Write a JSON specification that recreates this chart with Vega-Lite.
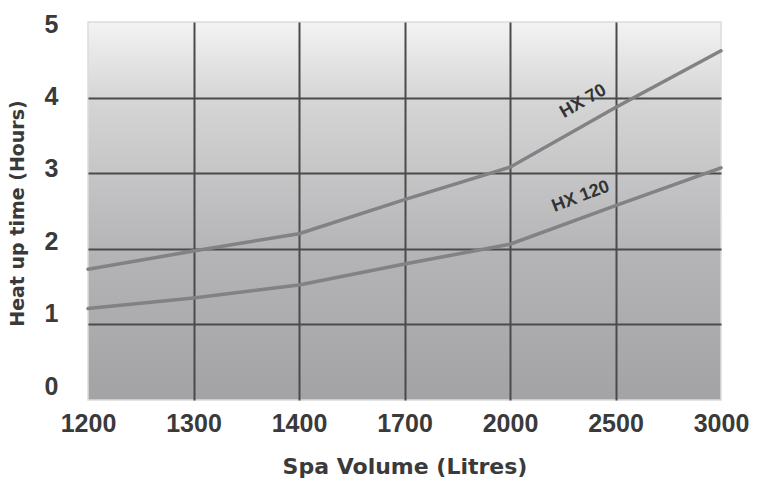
{
  "$schema": "https://vega.github.io/schema/vega-lite/v6.json",
  "autosize": {"type": "none"},
  "width": 633,
  "height": 378,
  "padding": {"left": 88, "top": 22, "right": 38, "bottom": 85},
  "background": "white",
  "config": {
    "font": "Liberation Sans",
    "view": {
      "stroke": "#dcdcdc",
      "strokeWidth": 1.5,
      "fill": {
        "gradient": "linear",
        "x1": 0, "y1": 0, "x2": 0, "y2": 1,
        "stops": [
          {"offset": 0, "color": "#f3f3f3"},
          {"offset": 0.2, "color": "#d6d6d7"},
          {"offset": 0.6, "color": "#b5b5b7"},
          {"offset": 1, "color": "#a3a3a5"}
        ]
      }
    }
  },
  "data": {
    "values": [
      {"volume": "1200", "series": "HX 70", "hours": 1.73},
      {"volume": "1300", "series": "HX 70", "hours": 1.97},
      {"volume": "1400", "series": "HX 70", "hours": 2.2},
      {"volume": "1700", "series": "HX 70", "hours": 2.65},
      {"volume": "2000", "series": "HX 70", "hours": 3.08},
      {"volume": "2500", "series": "HX 70", "hours": 3.87},
      {"volume": "3000", "series": "HX 70", "hours": 4.62},
      {"volume": "1200", "series": "HX 120", "hours": 1.21},
      {"volume": "1300", "series": "HX 120", "hours": 1.35},
      {"volume": "1400", "series": "HX 120", "hours": 1.52},
      {"volume": "1700", "series": "HX 120", "hours": 1.8},
      {"volume": "2000", "series": "HX 120", "hours": 2.06},
      {"volume": "2500", "series": "HX 120", "hours": 2.57},
      {"volume": "3000", "series": "HX 120", "hours": 3.07}
    ]
  },
  "layer": [
    {
      "mark": {"type": "line", "color": "#828284", "strokeWidth": 3.5, "strokeCap": "round"},
      "encoding": {
        "x": {
          "field": "volume", "type": "ordinal",
          "sort": ["1200", "1300", "1400", "1700", "2000", "2500", "3000"],
          "scale": {"type": "point", "padding": 0},
          "axis": {
            "title": "Spa Volume (Litres)",
            "labelAngle": 0,
            "labelFont": "Liberation Sans",
            "labelFontSize": 25,
            "labelFontWeight": "bold",
            "labelColor": "#3a3a3a",
            "labelPadding": 11,
            "domain": false,
            "ticks": false,
            "grid": true,
            "gridColor": {"condition": {"test": "datum.value == '1200' || datum.value == '3000'", "value": "transparent"}, "value": "#4a4a4a"},
            "gridWidth": 2,
            "titleFont": "DejaVu Sans",
            "titleFontSize": 22,
            "titleFontWeight": "bold",
            "titleColor": "#3a3a3a",
            "titlePadding": 20
          }
        },
        "y": {
          "field": "hours", "type": "quantitative",
          "scale": {"domain": [0, 5], "nice": false, "zero": true},
          "axis": {
            "title": "Heat up time (Hours)",
            "values": [0, 1, 2, 3, 4, 5],
            "format": "d",
            "labelFont": "Liberation Sans",
            "labelFontSize": 25,
            "labelFontWeight": "bold",
            "labelColor": "#3a3a3a",
            "labelPadding": 30,
            "labelOffset": {
              "condition": [
                {"test": "datum.value == 0", "value": -14},
                {"test": "datum.value == 1", "value": -10.8},
                {"test": "datum.value == 2", "value": -7.6},
                {"test": "datum.value == 3", "value": -4.4},
                {"test": "datum.value == 4", "value": -1.2}
              ],
              "value": 2
            },
            "domain": false,
            "ticks": false,
            "grid": true,
            "gridColor": {"condition": {"test": "datum.value == 0 || datum.value == 5", "value": "transparent"}, "value": "#4a4a4a"},
            "gridWidth": 2,
            "titleFont": "DejaVu Sans",
            "titleFontSize": 19,
            "titleFontWeight": "bold",
            "titleColor": "#3a3a3a",
            "titlePadding": 17,
            "titleY": 191
          }
        },
        "detail": {"field": "series"}
      }
    },
    {
      "data": {
        "values": [
          {"volume": "2500", "hours": 3.95, "label": "HX 70"},
          {"volume": "2500", "hours": 2.69, "label": "HX 120"}
        ]
      },
      "mark": {"type": "text", "fontSize": 18, "fontWeight": "bold", "color": "#333333", "font": "Liberation Sans"},
      "encoding": {
        "x": {"field": "volume", "type": "ordinal", "sort": ["1200", "1300", "1400", "1700", "2000", "2500", "3000"]},
        "y": {"field": "hours", "type": "quantitative"},
        "text": {"field": "label"},
        "angle": {"field": "label", "type": "nominal", "scale": {"domain": ["HX 70", "HX 120"], "range": [330, 339]}, "legend": null},
        "xOffset": {"field": "label", "type": "nominal", "scale": {"domain": ["HX 70", "HX 120"], "range": [-31, -36]}}
      }
    }
  ]
}
